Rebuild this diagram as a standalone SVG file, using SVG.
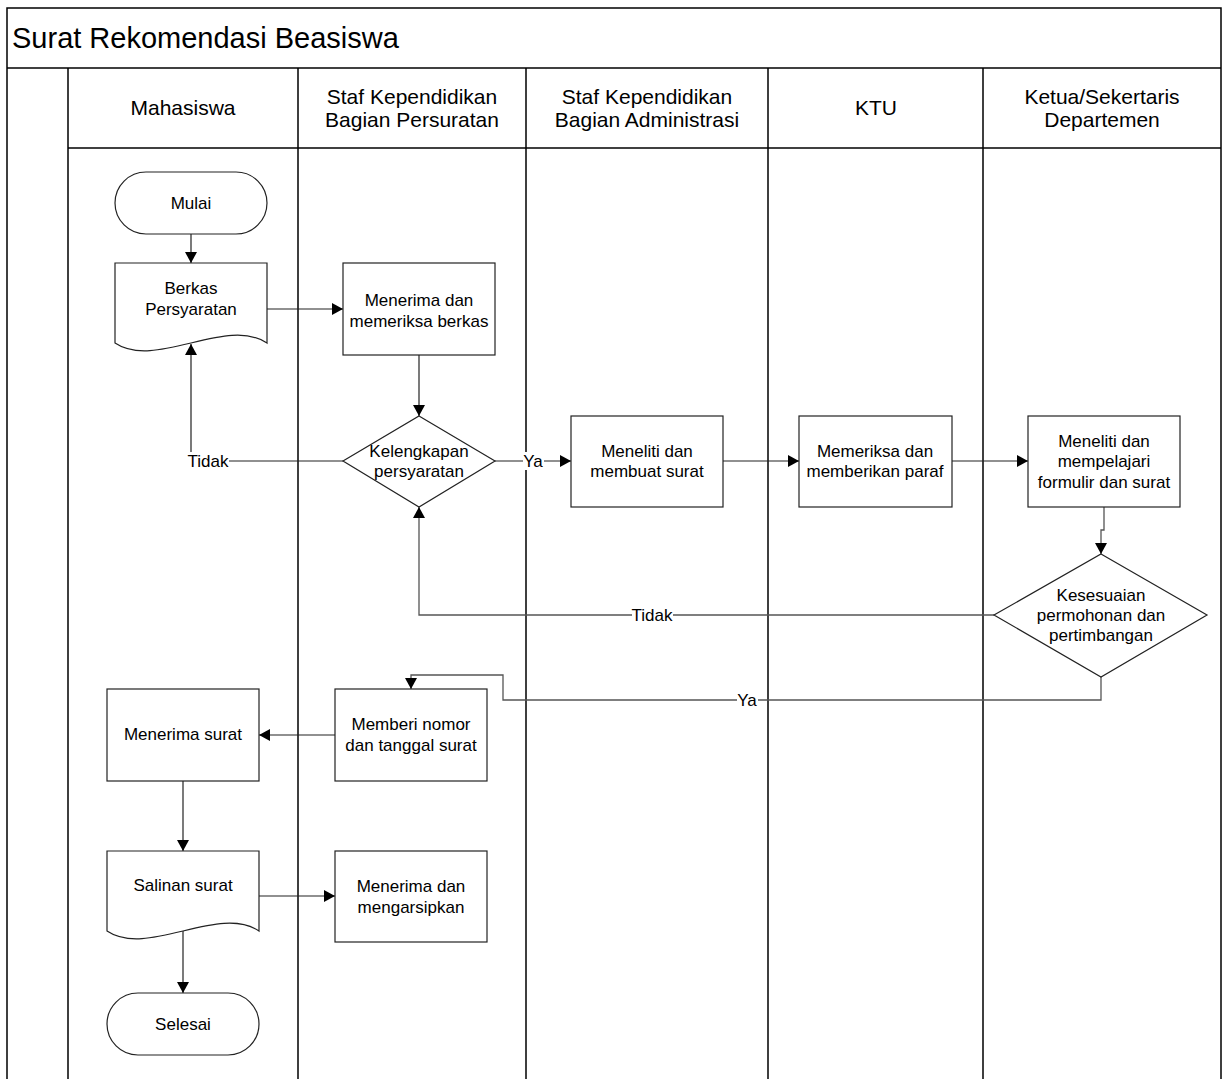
<svg xmlns="http://www.w3.org/2000/svg" width="1227" height="1079" viewBox="0 0 1227 1079">
<style>
text{font-family:"Liberation Sans",Arial,sans-serif;fill:#000}
.t{font-size:17px;text-anchor:middle}
.h{font-size:21px;text-anchor:middle}
.ttl{font-size:29px}
.n{fill:#fff;stroke:#222;stroke-width:1.2}
.ln{stroke:#000;stroke-width:1.5;fill:none}
.c{stroke:#222;stroke-width:1.2;fill:none}
.cg{stroke:#555;stroke-width:1.3;fill:none}
.lb{fill:#fff;stroke:none}
</style>
<defs>
<marker id="ar" markerUnits="userSpaceOnUse" markerWidth="12" markerHeight="12" refX="11" refY="6" orient="auto">
<path d="M0,0 L11,6 L0,12 Z" fill="#000"/>
</marker>
</defs>
<rect width="1227" height="1079" fill="#fff"/>
<g id="frame">
<path class="ln" d="M7,1079 V8 H1221 V1079"/>
<path class="ln" d="M7,68 H1221"/>
<path class="ln" d="M68,148 H1221"/>
<path class="ln" d="M68,68 V1079 M298,68 V1079 M526,68 V1079 M768,68 V1079 M983,68 V1079"/>
<text class="ttl" x="12" y="48">Surat Rekomendasi Beasiswa</text>
</g>
<g id="lane-headers">
<text class="h" x="183" y="115">Mahasiswa</text>
<text class="h" x="412" y="104">Staf Kependidikan</text>
<text class="h" x="412" y="127">Bagian Persuratan</text>
<text class="h" x="647" y="104">Staf Kependidikan</text>
<text class="h" x="647" y="127">Bagian Administrasi</text>
<text class="h" x="876" y="115">KTU</text>
<text class="h" x="1102" y="104">Ketua/Sekertaris</text>
<text class="h" x="1102" y="127">Departemen</text>
</g>
<g id="connectors">
<path class="c" d="M191,234 V263" marker-end="url(#ar)"/>
<path class="c" d="M267,309 H343" marker-end="url(#ar)"/>
<path class="c" d="M419,355 V416" marker-end="url(#ar)"/>
<path class="c" d="M343,461 H191 V344" marker-end="url(#ar)"/>
<path class="c" d="M495,461 H571" marker-end="url(#ar)"/>
<path class="c" d="M723,461 H799" marker-end="url(#ar)"/>
<path class="c" d="M952,461 H1028" marker-end="url(#ar)"/>
<path class="cg" d="M1104,507 V530 H1101 V554" marker-end="url(#ar)"/>
<path class="cg" d="M994,615 H419 V507" marker-end="url(#ar)"/>
<path class="cg" d="M1101,677 V700 H503 V675 H411 V689" marker-end="url(#ar)"/>
<path class="c" d="M335,735 H259" marker-end="url(#ar)"/>
<path class="c" d="M183,781 V851" marker-end="url(#ar)"/>
<path class="c" d="M259,896 H335" marker-end="url(#ar)"/>
<path class="c" d="M183,931 V993" marker-end="url(#ar)"/>
<rect class="lb" x="188" y="452" width="41" height="18"/>
<text x="208" y="467" style="font-size:17px;text-anchor:middle">Tidak</text>
<rect class="lb" x="523" y="452" width="21" height="18"/>
<text x="533" y="467" style="font-size:17px;text-anchor:middle">Ya</text>
<rect class="lb" x="632" y="606" width="41" height="18"/>
<text x="652" y="621" style="font-size:17px;text-anchor:middle">Tidak</text>
<rect class="lb" x="737" y="691" width="21" height="18"/>
<text x="747" y="706" style="font-size:17px;text-anchor:middle">Ya</text>
</g>
<g id="mulai">
<rect class="n" x="115" y="172" width="152" height="62" rx="31" ry="31"/>
<text class="t" x="191" y="209">Mulai</text>
</g>
<g id="berkas">
<path class="n" d="M115,263 H267 V343 C227,316 155,370 115,343 Z"/>
<text class="t" x="191" y="294">Berkas</text>
<text class="t" x="191" y="315">Persyaratan</text>
</g>
<g id="menerima-memeriksa">
<rect class="n" x="343" y="263" width="152" height="92"/>
<text class="t" x="419" y="306">Menerima dan</text>
<text class="t" x="419" y="327">memeriksa berkas</text>
</g>
<g id="kelengkapan">
<path class="n" d="M419,416 L495,461 L419,507 L343,461 Z"/>
<text class="t" x="419" y="457">Kelengkapan</text>
<text class="t" x="419" y="477">persyaratan</text>
</g>
<g id="meneliti-membuat">
<rect class="n" x="571" y="416" width="152" height="91"/>
<text class="t" x="647" y="457">Meneliti dan</text>
<text class="t" x="647" y="477">membuat surat</text>
</g>
<g id="memeriksa-paraf">
<rect class="n" x="799" y="416" width="153" height="91"/>
<text class="t" x="875" y="457">Memeriksa dan</text>
<text class="t" x="875" y="477">memberikan paraf</text>
</g>
<g id="meneliti-mempelajari">
<rect class="n" x="1028" y="416" width="152" height="91"/>
<text class="t" x="1104" y="447">Meneliti dan</text>
<text class="t" x="1104" y="467">mempelajari</text>
<text class="t" x="1104" y="488">formulir dan surat</text>
</g>
<g id="kesesuaian">
<path class="n" d="M1101,554 L1207,615 L1101,677 L994,615 Z"/>
<text class="t" x="1101" y="601">Kesesuaian</text>
<text class="t" x="1101" y="621">permohonan dan</text>
<text class="t" x="1101" y="641">pertimbangan</text>
</g>
<g id="memberi-nomor">
<rect class="n" x="335" y="689" width="152" height="92"/>
<text class="t" x="411" y="730">Memberi nomor</text>
<text class="t" x="411" y="751">dan tanggal surat</text>
</g>
<g id="menerima-surat">
<rect class="n" x="107" y="689" width="152" height="92"/>
<text class="t" x="183" y="740">Menerima surat</text>
</g>
<g id="salinan">
<path class="n" d="M107,851 H259 V931 C219,904 147,958 107,931 Z"/>
<text class="t" x="183" y="891">Salinan surat</text>
</g>
<g id="mengarsipkan">
<rect class="n" x="335" y="851" width="152" height="91"/>
<text class="t" x="411" y="892">Menerima dan</text>
<text class="t" x="411" y="913">mengarsipkan</text>
</g>
<g id="selesai">
<rect class="n" x="107" y="993" width="152" height="62" rx="31" ry="31"/>
<text class="t" x="183" y="1030">Selesai</text>
</g>
</svg>
